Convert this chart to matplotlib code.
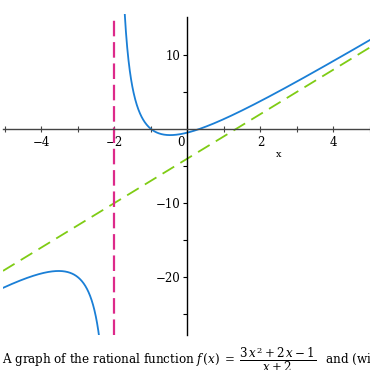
import numpy as np
import matplotlib
matplotlib.use("Agg")
import matplotlib.pyplot as plt
import matplotlib.transforms as mtransforms

# f(x) = (3x^2 + 2x - 1) / (x + 2), as printed in the caption
num_coeffs = [3, 2, -1]
den_coeffs = [1, 2]
pole = -2

x_range = [-5.05, 5.0]
y_range = [-27.8, 15.5]
x_major = [-4, -2, 0, 2, 4]
x_minor = [-5, -3, -1, 1, 3, 5]
y_major = [-20, -10, 10]
y_minor = [-25, -15, -5, 5]

caption = (r"A graph of the rational function $f\,(x)\;=\;\dfrac{3\,x^2 + 2\,x - 1}{x + 2}\,$"
           r"  and (with its vertical and oblique asymptotes)")

plt.rcParams['font.family'] = 'DejaVu Serif'
plt.rcParams['mathtext.fontset'] = 'dejavuserif'

blue = '#1a7fd6'
magenta = '#dd2a8a'
green = '#7fcc14'

fig = plt.figure(figsize=(3.7, 3.7), dpi=100)
ax = fig.add_axes([3 / 370, 35 / 370, 367 / 370, 321 / 370])

# oblique asymptote from the polynomial division
quot, rem = np.polydiv(num_coeffs, den_coeffs)
xa = np.linspace(x_range[0], x_range[1], 50)
ax.plot(xa, np.polyval(quot, xa), color=green, lw=1.3, dashes=(7.5, 4))

# vertical asymptote
ax.plot([pole, pole], [y_range[0], 14.7], color=magenta, lw=1.6, dashes=(7, 2.6))

# the two branches of f
for lo, hi in [(x_range[0], pole - 1e-3), (pole + 1e-3, x_range[1])]:
    xs = np.linspace(lo, hi, 800)
    ys = np.polyval(num_coeffs, xs) / np.polyval(den_coeffs, xs)
    ys[(ys < y_range[0] - 5) | (ys > y_range[1] + 5)] = np.nan
    ax.plot(xs, ys, color=blue, lw=1.3)

ax.set_xlim(x_range)
ax.set_ylim(y_range)

for s in ['top', 'right']:
    ax.spines[s].set_visible(False)
ax.spines['left'].set_position(('data', 0))
ax.spines['bottom'].set_position(('data', 0))
ax.spines['left'].set_bounds(y_range[0], 15.1)
ax.spines['bottom'].set_color('#444444')
ax.spines['left'].set_linewidth(1.0)
ax.spines['bottom'].set_linewidth(1.0)

ax.set_xticks(x_major)
ax.set_xticks(x_minor, minor=True)
ax.set_xticklabels(['\u22124', '\u22122', '0', '2', '4'])
ax.set_yticks(y_major)
ax.set_yticks(y_minor, minor=True)
ax.set_yticklabels(['\u221220', '\u221210', '10'])

ax.tick_params(axis='x', which='both', direction='inout', length=4, width=0.8,
               color='#444444', labelsize=8.5, pad=3)
ax.tick_params(axis='y', which='both', direction='out', length=3, width=0.8,
               labelsize=8.5, pad=2)

# the "0" label sits a little left of the axis
for lab in ax.get_xticklabels():
    if lab.get_text() == '0':
        lab.set_transform(lab.get_transform() +
                          mtransforms.ScaledTranslation(-6 / 100, 0, fig.dpi_scale_trans))

ax.text(2.5, -3.5, 'x', fontsize=7, ha='center', va='center')

fig.text(2 / 370, 1 - 364 / 370, caption, fontsize=8.6, ha='left', va='baseline')

fig.savefig('out.png', dpi=100)
